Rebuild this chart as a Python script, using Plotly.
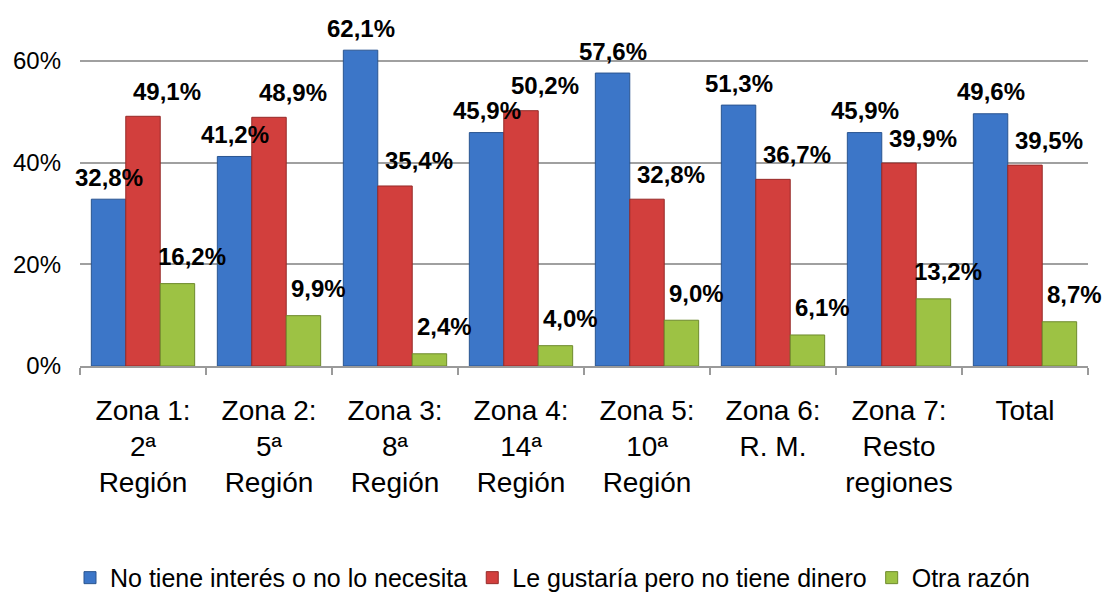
import plotly.graph_objects as go

# categories and values (percent)
categories = ["Zona 1:<br>2ª<br>Región", "Zona 2:<br>5ª<br>Región", "Zona 3:<br>8ª<br>Región",
              "Zona 4:<br>14ª<br>Región", "Zona 5:<br>10ª<br>Región", "Zona 6:<br>R. M.",
              "Zona 7:<br>Resto<br>regiones", "Total"]
no_interes = [32.8, 41.2, 62.1, 45.9, 57.6, 51.3, 45.9, 49.6]
sin_dinero = [49.1, 48.9, 35.4, 50.2, 32.8, 36.7, 39.9, 39.5]
otra_razon = [16.2, 9.9, 2.4, 4.0, 9.0, 6.1, 13.2, 8.7]

series_names = ["No tiene interés o no lo necesita",
                "Le gustaría pero no tiene dinero",
                "Otra razón"]
y_ticks = [0, 20, 40, 60]

colors = {'blue': '#3C76C8', 'red': '#D23F3D', 'green': '#9DC244'}
edges = {'blue': '#2A5590', 'red': '#962A28', 'green': '#6E8A2C'}

FONT = "Liberation Sans, Arial, sans-serif"

fig = go.Figure()
series = [no_interes, sin_dinero, otra_razon]
for name, vals, key in zip(series_names, series, colors):
    fig.add_trace(go.Bar(
        x=categories, y=vals, name=name,
        marker=dict(color=colors[key], line=dict(color=edges[key], width=1)),
    ))

# data labels, moved a bit like in the original sheet
bar_px = 126 * (1 - 0.18) / 3
label_dx = [0, 24, 15]
label_dy = [22, 25, 27]
for i, vals in enumerate(series):
    for cat, v in zip(categories, vals):
        fig.add_annotation(
            x=cat, y=v, xref='x', yref='y',
            text=f"{v:.1f}%".replace('.', ','),
            showarrow=False, yanchor='middle',
            xshift=(i - 1) * bar_px + label_dx[i], yshift=label_dy[i],
            font=dict(family=FONT, size=24, color='black', weight='bold'),
        )

fig.update_layout(
    width=1105, height=597,
    margin=dict(l=80, r=17, t=10, b=231),
    paper_bgcolor='white', plot_bgcolor='white',
    barmode='group', bargap=0.18, bargroupgap=0,
    font=dict(family=FONT, color='black'),
    showlegend=True,
    legend=dict(orientation='h', xref='container', yref='container',
                x=0.5, xanchor='center', y=0.032, yanchor='middle',
                font=dict(family=FONT, size=25, color='black'),
                itemwidth=30, traceorder='normal'),
)
fig.update_xaxes(
    automargin=False, range=[-0.5, len(categories) - 0.5],
    showline=True, linecolor='#9A9A9A', linewidth=2,
    ticks='outside', tickson='boundaries', ticklen=7, tickcolor='#9A9A9A', tickwidth=2,
    tickfont=dict(family=FONT, size=28, color='black'),
    ticklabelstandoff=18, showgrid=False,
)
fig.update_yaxes(
    automargin=False,
    range=[0, 70], tickvals=y_ticks, ticktext=[f"{t}%" for t in y_ticks],
    showgrid=True, gridcolor='#A0A0A0', gridwidth=2,
    zeroline=False, showline=False, ticks='',
    tickfont=dict(family=FONT, size=24, color='black'),
    ticklabelstandoff=18,
)

fig.write_html("out.html", config={'displayModeBar': False},
               post_script="document.body.style.margin='0';document.body.style.overflow='hidden';")
